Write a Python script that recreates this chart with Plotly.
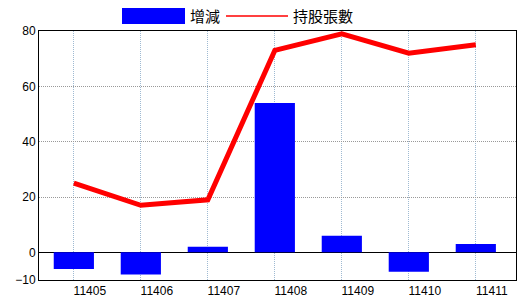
import plotly.graph_objects as go

categories = ["11405", "11406", "11407", "11408", "11409", "11410", "11411"]
change = [-6, -8, 2, 54, 6, -7, 3]
holdings = [25, 17, 19, 73, 79, 72, 75]
y_ticks = [-10, 0, 20, 40, 60, 80]
bar_name = "增減"
line_name = "持股張數"

fig = go.Figure()
fig.add_trace(go.Bar(x=categories, y=change, name=bar_name, marker=dict(color="#0000ff", line=dict(width=0)), width=0.6))
fig.add_trace(go.Scatter(x=categories, y=holdings, name=line_name, mode="lines", line=dict(color="#ff0000", width=5)))

font_family = "Liberation Sans, Arial, sans-serif"
fig.update_layout(
    width=520, height=300,
    margin=dict(l=39, r=4, t=31, b=20),
    paper_bgcolor="white", plot_bgcolor="white",
    showlegend=False,
    font=dict(family=font_family, size=12, color="black"),
    xaxis=dict(type="category", range=[-0.52, 6.6], showgrid=True, gridcolor="#9fbad2", griddash="1px,1px", gridwidth=1,
               showline=True, linecolor="black", linewidth=1, mirror=True, ticks="", ticklabelshift=16,
               tickfont=dict(size=12), automargin=False),
    yaxis=dict(range=[-10, 80], tickvals=y_ticks, showgrid=True, gridcolor="#999999", griddash="1px,1px", gridwidth=1,
               zeroline=True, zerolinecolor="black", zerolinewidth=1,
               showline=True, linecolor="black", linewidth=1, mirror=True, ticks="", tickfont=dict(size=12),
               automargin=False),
)

# legend drawn at top
fig.add_shape(type="rect", xref="paper", yref="paper", x0=(122-39)/249*0 + (122-39)/477, x1=(185-39)/477,
              y0=(300-20-24)/249, y1=(300-20-8)/249, fillcolor="#0000ff", line=dict(width=0))
fig.add_shape(type="line", xref="paper", yref="paper", x0=(226-39)/477, x1=(288-39)/477,
              y0=(300-20-16)/249, y1=(300-20-16)/249, line=dict(color="#ff0000", width=1.5))
fig.add_annotation(text=bar_name, xref="paper", yref="paper", x=(188-39)/477, y=(300-20-16)/249,
                   xanchor="left", yanchor="middle", showarrow=False,
                   font=dict(family="Noto Sans CJK TC", size=15, color="black"))
fig.add_annotation(text=line_name, xref="paper", yref="paper", x=(291-39)/477, y=(300-20-16)/249,
                   xanchor="left", yanchor="middle", showarrow=False,
                   font=dict(family="Noto Sans CJK TC", size=15, color="black"))

fig.write_html("out.html")
